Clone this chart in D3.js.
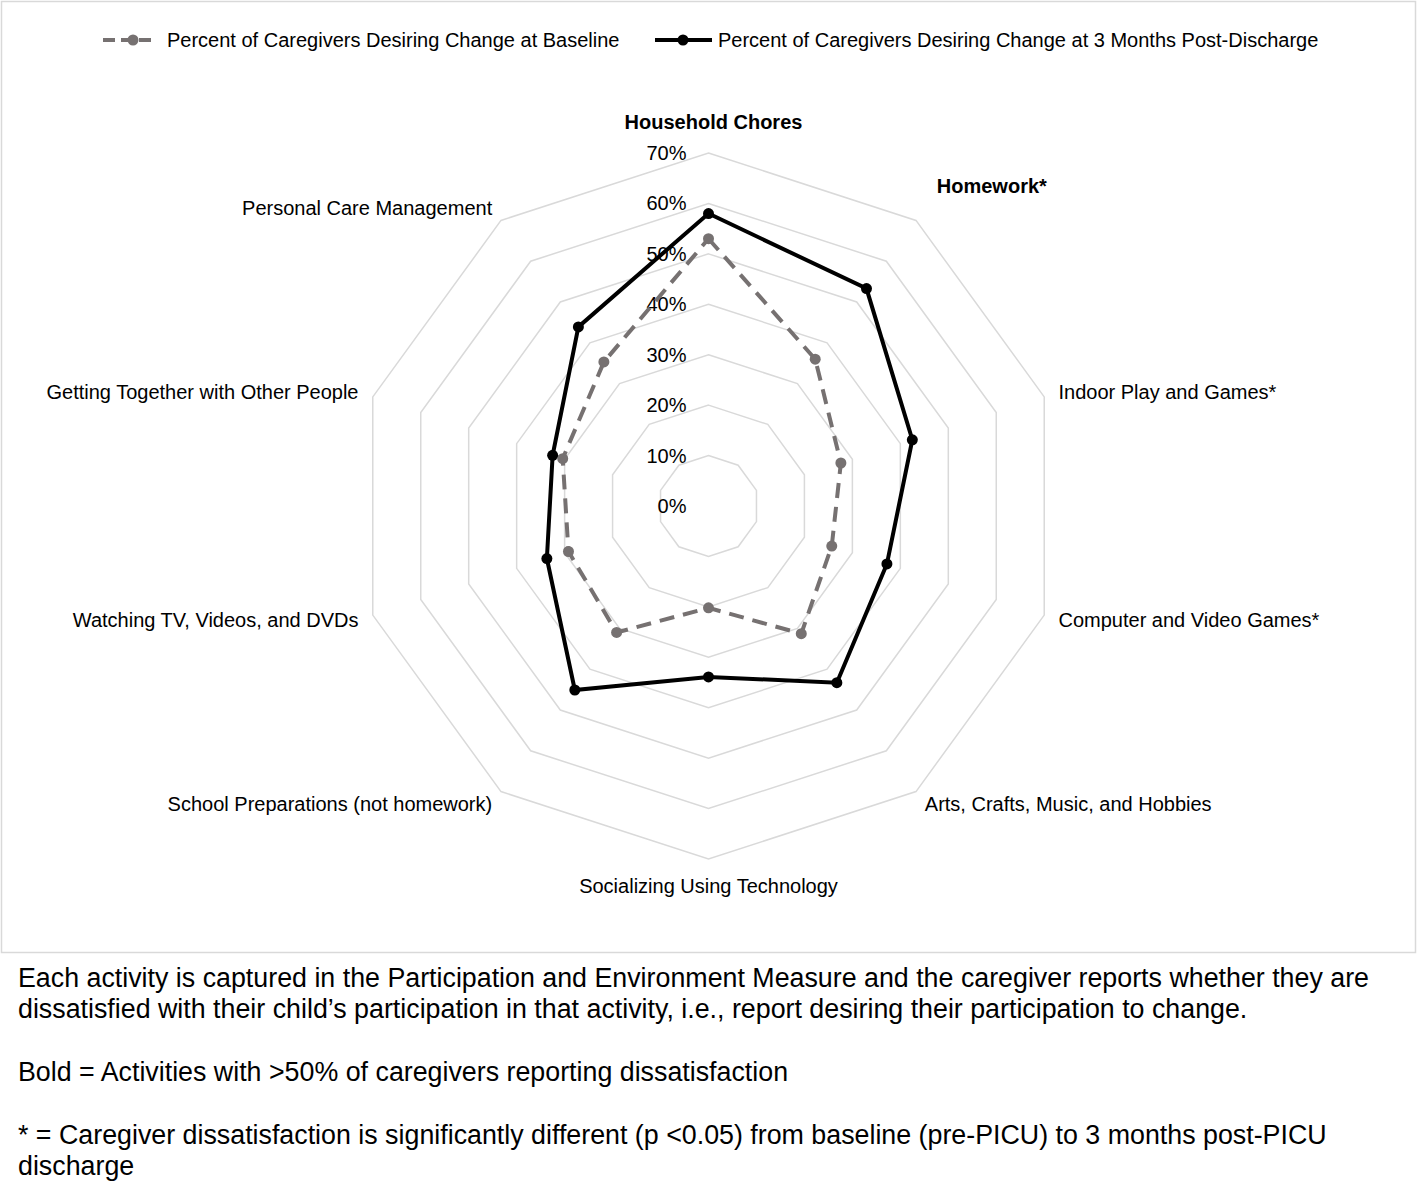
<!DOCTYPE html>
<meta charset="utf-8">
<style type="text/css">

body {
  margin: 0;
  background: #fff;
}

svg text {
  font-family: "Liberation Sans", Arial, sans-serif;
  fill: #000;
}

.grid {
  fill: none;
  stroke: #d9d9d9;
  stroke-width: 1.5;
}

.frame {
  fill: none;
  stroke: #d9d9d9;
  stroke-width: 1.5;
}

.note {
  font-size: 26.8px;
}

</style>
<svg width="1418" height="1182"></svg>
<script src="https://cdnjs.cloudflare.com/ajax/libs/d3/7.8.5/d3.min.js"></script>
<script>

// activities, clockwise from top
var activities = [
  "Household Chores",
  "Homework*",
  "Indoor Play and Games*",
  "Computer and Video Games*",
  "Arts, Crafts, Music, and Hobbies",
  "Socializing Using Technology",
  "School Preparations (not homework)",
  "Watching TV, Videos, and DVDs",
  "Getting Together with Other People",
  "Personal Care Management"
];
var boldActivities = ["Household Chores", "Homework*"];

var baseline = [53, 36, 27.6, 25.7, 31.3, 20.2, 31, 29.2, 30.4, 35.3];
var postDischarge = [58, 53.3, 42.5, 37.2, 43.3, 33.9, 45.1, 33.7, 32.5, 43.9];

var ticks = [0, 10, 20, 30, 40, 50, 60, 70];

var seriesNames = [
  "Percent of Caregivers Desiring Change at Baseline",
  "Percent of Caregivers Desiring Change at 3 Months Post-Discharge"
];

var notes = [
  ["Each activity is captured in the Participation and Environment Measure and the caregiver reports whether they are",
   "dissatisfied with their child\u2019s participation in that activity, i.e., report desiring their participation to change."],
  ["Bold = Activities with >50% of caregivers reporting dissatisfaction"],
  ["* = Caregiver dissatisfaction is significantly different (p <0.05) from baseline (pre-PICU) to 3 months post-PICU",
   "discharge"]
];

var svg = d3.select("svg"),
    cx = 708.5,
    cy = 506,
    R = 353;

svg.append("rect").attr("class", "frame")
   .attr("x", 1.5).attr("y", 1.5).attr("width", 1414).attr("height", 951);

var r = d3.scaleLinear().domain([0, 70]).range([0, R]);
var angle = d3.scaleLinear().domain([0, activities.length]).range([0, 2 * Math.PI]);

function pt(i, v){
  var a = angle(i);
  return [cx + r(v) * Math.sin(a), cy - r(v) * Math.cos(a)];
}

var g = svg.append("g");

// rings
g.selectAll(".grid")
  .data(ticks.slice(1))
  .enter().append("polygon")
  .attr("class", "grid")
  .attr("points", function(t){
    return activities.map(function(d, i){ return pt(i, t).join(","); }).join(" ");
  });

// tick labels
g.selectAll(".tick")
  .data(ticks)
  .enter().append("text")
  .attr("class", "tick")
  .attr("x", cx - 22)
  .attr("y", function(t){ return cy - r(t); })
  .attr("dy", "0.35em")
  .attr("text-anchor", "end")
  .style("font-size", "20px")
  .text(function(t){ return t + "%"; });

// category labels
var nudge = { "Homework*": [12, -22], "Household Chores": [5, -4] };
g.selectAll(".cat")
  .data(activities)
  .enter().append("text")
  .attr("class", "cat")
  .each(function(d, i){
    var a = angle(i), s = Math.sin(a), c = Math.cos(a);
    var rr = 368 + (Math.abs(c) > 0.95 ? 12 : 0);
    var x = cx + rr * s, y = cy - rr * c;
    var n = nudge[d] || [0, 0];
    d3.select(this)
      .attr("x", x + n[0])
      .attr("y", y + n[1])
      .attr("dy", "0.35em")
      .attr("text-anchor", s > 0.1 ? "start" : (s < -0.1 ? "end" : "middle"))
      .style("font-size", "20px")
      .style("font-weight", boldActivities.indexOf(d) >= 0 ? "bold" : "normal")
      .text(d);
  });

var series = [
  { name: seriesNames[0], values: baseline, color: "#767171", dash: "15,9" },
  { name: seriesNames[1], values: postDischarge, color: "#000000", dash: null }
];

var line = d3.line().curve(d3.curveLinearClosed);

series.forEach(function(s){
  var pts = s.values.map(function(v, i){ return pt(i, v); });
  g.append("path")
    .attr("d", line(pts))
    .attr("fill", "none")
    .attr("stroke", s.color)
    .attr("stroke-width", 4)
    .attr("stroke-dasharray", s.dash);
  g.selectAll(null)
    .data(pts)
    .enter().append("circle")
    .attr("cx", function(p){ return p[0]; })
    .attr("cy", function(p){ return p[1]; })
    .attr("r", 5.5)
    .attr("fill", s.color);
});

// legend
var legendX = [103, 655];
series.forEach(function(s, i){
  var lg = svg.append("g").attr("transform", "translate(" + legendX[i] + ",40)");
  lg.append("line")
    .attr("x1", 0).attr("x2", i === 0 ? 52 : 57)
    .attr("stroke", s.color).attr("stroke-width", 4)
    .attr("stroke-dasharray", i === 0 ? "12,6" : null);
  lg.append("circle").attr("cx", i === 0 ? 30 : 28).attr("r", 5.5).attr("fill", s.color);
  lg.append("text")
    .attr("x", i === 0 ? 64 : 63)
    .attr("dy", "0.35em")
    .style("font-size", "20px")
    .text(s.name);
});

// notes below the chart
var noteY = [987, 1081, 1144];
notes.forEach(function(block, b){
  block.forEach(function(t, j){
    svg.append("text")
      .attr("class", "note")
      .attr("x", 18)
      .attr("y", noteY[b] + j * 31)
      .text(t);
  });
});

</script>
